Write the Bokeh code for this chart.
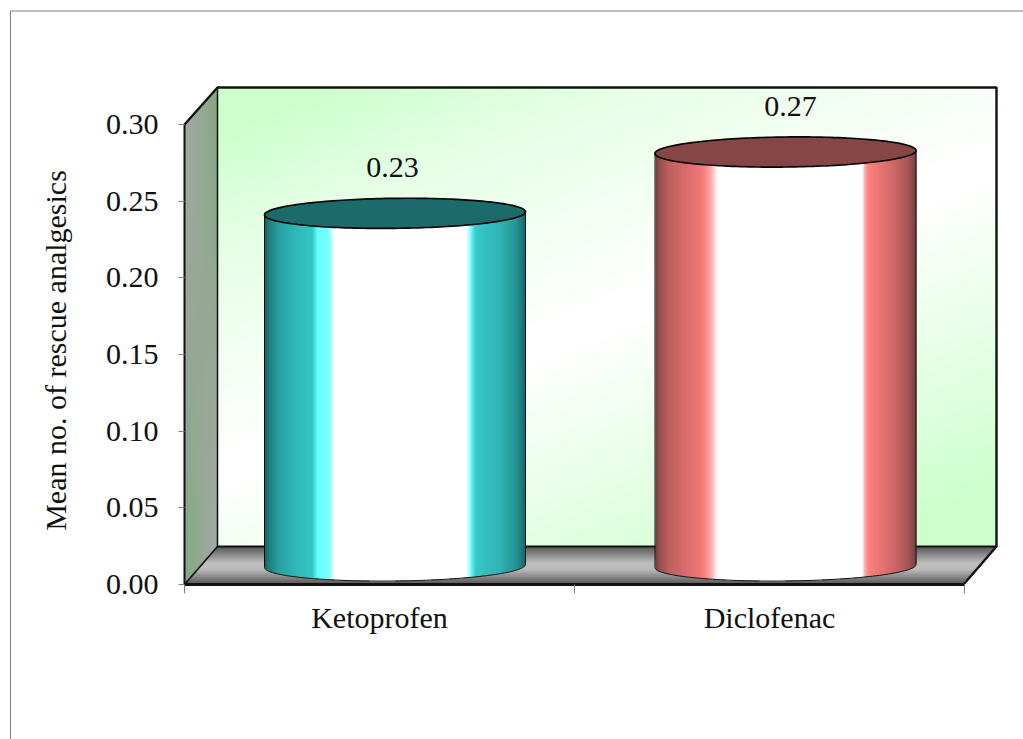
import numpy as np
from bokeh.core.properties import value
from bokeh.embed import file_html
from bokeh.models import FixedTicker, LinearAxis, Range1d
from bokeh.plotting import figure
from bokeh.resources import INLINE

# Chart content
categories = ["Ketoprofen", "Diclofenac"]
means = [0.23, 0.27]
y_ticks = [0.0, 0.05, 0.10, 0.15, 0.20, 0.25, 0.30]
y_tick_labels = ["0.00", "0.05", "0.10", "0.15", "0.20", "0.25", "0.30"]
y_title = "Mean no. of rescue analgesics"

# Colour ramps across a cylinder: (pixels from left edge, colour)
teal_ramp = [(0, "#155a5a"), (4, "#1d7c7c"), (14, "#28a0a0"), (30, "#30b6b6"), (48, "#36c6c6"),
             (53, "#66ffff"), (64, "#77ffff"), (70, "#ffffff"), (202, "#ffffff"), (206, "#77ffff"),
             (211, "#38caca"), (236, "#2fb2b2"), (252, "#259494"), (261, "#1b6666")]
red_ramp = [(0, "#6e3c3c"), (4, "#96504f"), (14, "#c06060"), (30, "#d86c6c"), (45, "#f07878"),
            (49, "#ff8080"), (56, "#ffb0b0"), (62, "#ffffff"), (207, "#ffffff"), (209, "#ffb0b0"),
            (213, "#ff8080"), (240, "#cc6666"), (252, "#a85656"), (261, "#743e3e")]
ramps = [teal_ramp, red_ramp]
cap_colors = ["#1b6b6b", "#864646"]

# Scale of the front plane of the box, in page pixels
LEFT, BOTTOM, PX_PER_CAT, PX_PER_UNIT = 185, 584, 390.0, 460 / 0.3
DX, DY = 33, 38                       # depth of the box
FRAME_RIGHT, FRAME_TOP = 997, 87
PAGE_W, PAGE_H = 1023, 739


def X(px):
    return (np.asarray(px, dtype=float) - LEFT) / PX_PER_CAT


def Y(py):
    return (BOTTOM - np.asarray(py, dtype=float)) / PX_PER_UNIT


def rgb(c):
    return np.array([int(c[i:i + 2], 16) for i in (1, 3, 5)], dtype=float)


def to_rgba(r, g, b, a):
    out = np.zeros(r.shape + (4,), dtype=np.uint8)
    out[..., 0], out[..., 1], out[..., 2], out[..., 3] = r, g, b, a
    return out.view(np.uint32).reshape(r.shape)


def mix(c0, c1, t):
    c0, c1 = rgb(c0), rgb(c1)
    return [c0[i] + (c1[i] - c0[i]) * t for i in range(3)]


def draw_image(p, rgba, x0, y_top):
    h, w = rgba.shape
    p.image_rgba(image=[rgba[::-1]], x=float(X(x0)), y=float(Y(y_top + h)),
                 dw=w / PX_PER_CAT, dh=h / PX_PER_UNIT)


# The frame fills the page; both axes are pinned to the front edges of the box
p = figure(width=PAGE_W, height=PAGE_H, output_backend="svg", toolbar_location=None,
           x_range=Range1d(float(X(1)), float(X(PAGE_W + 1))),
           y_range=Range1d(float(Y(PAGE_H)), float(Y(0))),
           x_axis_type=None, y_axis_type=None,
           min_border_left=0, min_border_right=0, min_border_top=0, min_border_bottom=0)
p.grid.visible = False
p.outline_line_color = None
p.background_fill_color = "white"

# Page rule along the top and left, running off the page
p.line(X([PAGE_W + 2, 11, 11]), Y([10.5, 10.5, PAGE_H]), line_color="#808080", line_width=1)

# Back wall: diagonal green-white-green wash
bx0, bx1, by0, by1 = LEFT + DX, FRAME_RIGHT, FRAME_TOP, BOTTOM - DY
gx, gy = np.meshgrid(np.arange(bx0, bx1), np.arange(by0, by1))
s = (gx - bx0) * 0.4 + (gy - by0)
t = np.interp(s, [0, 40, 160, 370, 400, 720, 800], [1, 1, 0.5, 0, 0, 1, 1])
r, g, b = mix("#ffffff", "#ccffcc", t)
draw_image(p, to_rgba(r, g, b, 255 * np.ones_like(t)), bx0, by0)

# Side wall: grey and muted green on opposite corners
sx0, sx1, sy0, sy1 = LEFT, LEFT + DX, FRAME_TOP, BOTTOM
gx, gy = np.meshgrid(np.arange(sx0, sx1) + 0.5, np.arange(sy0, sy1) + 0.5)
u, v = (gx - sx0) / DX, (gy - sy0) / (sy1 - sy0)
top_edge = sy0 + DY * (1 - u) - 1
low_edge = sy1 - DY * u
r, g, b = mix("#a9a9a9", "#82a882", u * (1 - v) + (1 - u) * v)
draw_image(p, to_rgba(r, g, b, 255.0 * ((gy >= top_edge) & (gy <= low_edge))), sx0, sy0)

# Floor: banded grey from back edge to front edge
fx0, fx1, fy0, fy1 = LEFT, FRAME_RIGHT, BOTTOM - DY, BOTTOM
gx, gy = np.meshgrid(np.arange(fx0, fx1) + 0.5, np.arange(fy0, fy1) + 0.5)
w = (gy - fy0) / (fy1 - fy0)
shade = np.interp(w, [0, 0.42, 0.6, 1], [85, 188, 188, 85])
inside = (gx >= fx0 + DX * (1 - w)) & (gx <= FRAME_RIGHT - DX * w)
draw_image(p, to_rgba(shade, shade, shade, 255.0 * inside), fx0, fy0)

# Box outlines
p.line(X([LEFT, LEFT + DX, FRAME_RIGHT, FRAME_RIGHT, FRAME_RIGHT - DX]),
       Y([BOTTOM - 460, FRAME_TOP, FRAME_TOP, BOTTOM - DY, BOTTOM]),
       line_color="#111111", line_width=2.4)
p.line(X([LEFT, LEFT + DX, FRAME_RIGHT]), Y([BOTTOM, BOTTOM - DY, BOTTOM - DY]),
       line_color="#111111", line_width=1.8)
p.line(X([LEFT + DX, LEFT + DX]), Y([FRAME_TOP, BOTTOM - DY]), line_color="#111111", line_width=1.5)

# Cylinders: base sits mid-way into the box depth
HALF_W, RY, TILT, BASE_PY = 130.5, 15.0, -3 / 261, 565.5
centers_px = [395.5, 786.0]
label_shift_px = [-2.5, 5.0]
for i, mean in enumerate(means):
    cx = centers_px[i]
    top_py = BASE_PY - mean * PX_PER_UNIT
    left = int(round(cx - HALF_W))
    width = int(round(2 * HALF_W))
    y_start, y_end = int(top_py), int(BASE_PY + RY + 5)
    gx, gy = np.meshgrid(np.arange(left, left + width) + 0.5, np.arange(y_start, y_end) + 0.5)
    stops = ramps[i]
    pos = [q for q, _ in stops]
    cols = np.array([rgb(c) for _, c in stops])
    offs = gx - left
    r, g, b = [np.interp(offs, pos, cols[:, k]) for k in range(3)]
    dxn = np.clip((gx - cx) / HALF_W, -1, 1)
    lower = BASE_PY + RY * np.sqrt(1 - dxn ** 2) + TILT * (gx - cx)
    draw_image(p, to_rgba(r, g, b, 255.0 * (gy <= lower)), left, y_start)

    theta = np.linspace(0, 2 * np.pi, 181)
    ex = HALF_W * np.cos(theta)
    ey = RY * np.sin(theta)
    # Silhouette: both sides and the lower arc
    arc = np.linspace(0, np.pi, 91)
    ax = HALF_W * np.cos(arc)
    ay = RY * np.sin(arc) + TILT * ax
    sil_x = np.concatenate([[cx + HALF_W], cx + ax, [cx - HALF_W]])
    sil_y = np.concatenate([[top_py + TILT * HALF_W], BASE_PY + ay, [top_py - TILT * HALF_W]])
    p.line(X(sil_x), Y(sil_y), line_color="#111111", line_width=1)
    # Cap
    p.patch(X(cx + ex), Y(top_py + ey + TILT * ex), fill_color=cap_colors[i],
            line_color="#050505", line_width=1.7)
    p.text(x=[float(X(cx + label_shift_px[i]))], y=[float(Y(top_py - 46))], text=[f"{mean:.2f}"],
           text_font=value("Liberation Serif"), text_font_size="30px", text_color="#111111",
           text_align="center", text_baseline="middle")

# Value axis on the front-left edge
yaxis = LinearAxis(fixed_location=0, bounds=(0, 0.3), ticker=FixedTicker(ticks=y_ticks),
                   major_label_overrides=dict(zip(y_ticks, y_tick_labels)),
                   major_label_text_font="Liberation Serif", major_label_text_font_size="30px",
                   major_label_text_color="#111111", major_label_standoff=20,
                   axis_line_color="#111111", axis_line_width=2,
                   major_tick_line_color="#808080", major_tick_out=6, major_tick_in=0,
                   minor_tick_line_color=None)
p.add_layout(yaxis, "left")

# Axis title centred on the front edge of the box
p.text(x=[float(X(56))], y=[float(Y(350))], text=[y_title], angle=np.pi / 2,
       text_font=value("Liberation Serif"), text_font_size="30px", text_color="#111111",
       text_align="center", text_baseline="middle")

# Category axis: ticks between categories, labels at their centres
xaxis = LinearAxis(fixed_location=0, bounds=(0, 2),
                   ticker=FixedTicker(ticks=[0.5, 1.5], minor_ticks=[0, 1, 2]),
                   major_label_overrides={0.5: categories[0], 1.5: categories[1]},
                   major_label_text_font="Liberation Serif", major_label_text_font_size="30px",
                   major_label_text_color="#111111", major_label_standoff=7,
                   axis_line_color="#111111", axis_line_width=3,
                   major_tick_line_color=None, major_tick_out=0, major_tick_in=0,
                   minor_tick_line_color="#808080", minor_tick_out=9, minor_tick_in=0)
p.add_layout(xaxis, "below")

open("out.html", "w").write(file_html(p, INLINE))
